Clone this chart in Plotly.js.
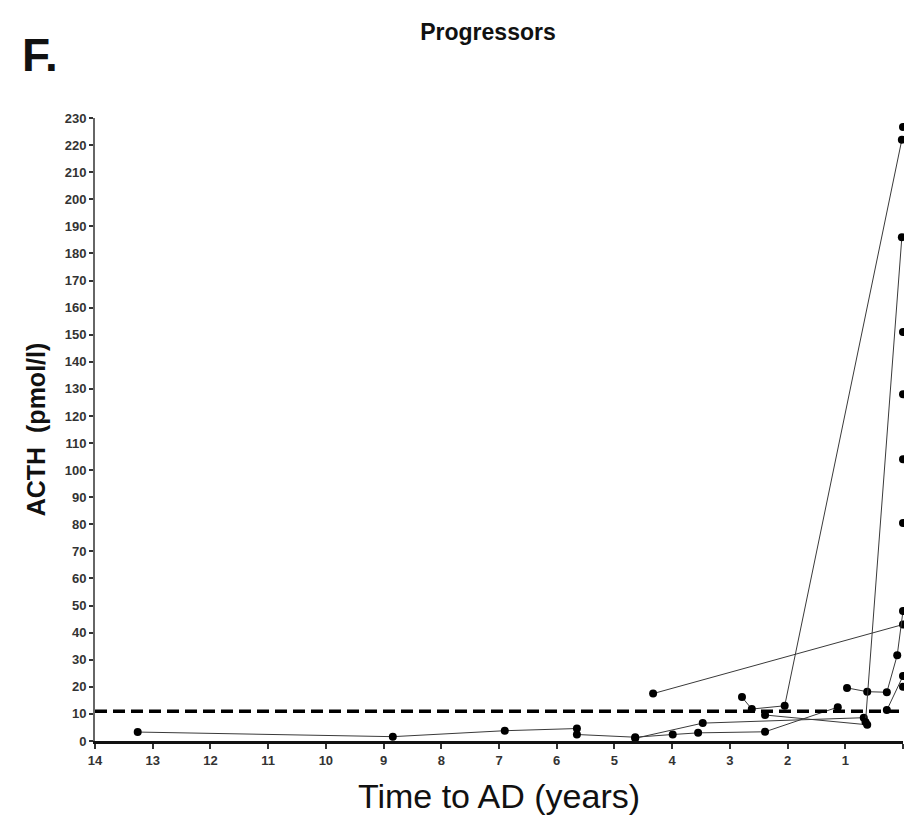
<!DOCTYPE html>
<html>
<head>
<meta charset="utf-8">
<script src="https://cdn.plot.ly/plotly-3.0.1.min.js"></script>
<style>html,body{margin:0;padding:0;background:#fff;}#chart{width:904px;height:828px;}</style>
</head>
<body>
<div id="chart"></div>
<script>
// Subject trajectories: time to AD (years) and ACTH (pmol/l)
const s1Time = [13.26, 8.84, 6.9, 5.65];
const s1Acth = [3.3, 1.6, 3.8, 4.6];
const s2Time = [5.65, 4.64, 3.99, 3.55, 2.39, 1.13];
const s2Acth = [2.4, 1.4, 2.4, 3.0, 3.4, 12.5];
const s3Time = [4.64, 3.47, 0.68];
const s3Acth = [1.0, 6.6, 8.6];
const s4Time = [4.33, 0.0];
const s4Acth = [17.5, 43];
const s5Time = [2.79, 2.62, 2.05, 0.02];
const s5Acth = [16.2, 11.8, 13.0, 222];
const s6Time = [2.39, 0.62];
const s6Acth = [9.6, 6.0];
const s7Time = [0.97, 0.62, 0.28, 0.1, 0.0];
const s7Acth = [19.6, 18.2, 18.0, 31.7, 48];
const s8Time = [0.65, 0.02];
const s8Acth = [7.0, 186];
const s9Time = [0.28, 0.0];
const s9Acth = [11.4, 24];
const singleTime = [0, 0, 0, 0, 0, 0];
const singleActh = [226.7, 151, 128, 104, 80.5, 20];
const thresholdActh = 11;
const xTickVals = [14, 13, 12, 11, 10, 9, 8, 7, 6, 5, 4, 3, 2, 1, 0];
const yTickVals = [0,10,20,30,40,50,60,70,80,90,100,110,120,130,140,150,160,170,180,190,200,210,220,230];

const subjects = [
  [s1Time, s1Acth], [s2Time, s2Acth], [s3Time, s3Acth], [s4Time, s4Acth],
  [s5Time, s5Acth], [s6Time, s6Acth], [s7Time, s7Acth], [s8Time, s8Acth], [s9Time, s9Acth]
];

const traces = subjects.map(function (s) {
  return {
    x: s[0], y: s[1], type: 'scatter', mode: 'lines+markers',
    line: {color: '#3a3a3a', width: 1},
    marker: {color: '#000', size: 8},
    cliponaxis: false, showlegend: false, hoverinfo: 'x+y'
  };
});
traces.push({
  x: singleTime, y: singleActh, type: 'scatter', mode: 'markers',
  marker: {color: '#000', size: 8}, cliponaxis: false, showlegend: false
});

const FONT = 'Liberation Sans, Arial, sans-serif';
const tickFont = {family: FONT, size: 13, color: '#333', weight: 'bold'};

const plotW = 904 - 95 - 1, plotH = 828 - 118 - 87;

const layout = {
  width: 904, height: 828,
  margin: {l: 95, r: 1, t: 118, b: 87},
  paper_bgcolor: '#fff', plot_bgcolor: '#fff',
  title: {
    text: '<b>Progressors</b>',
    font: {family: FONT, size: 23, color: '#111'},
    x: 488 / 904, xref: 'container', xanchor: 'center',
    y: 1 - 32 / 828, yref: 'container', yanchor: 'middle'
  },
  xaxis: {
    range: [14, 0], tickvals: xTickVals, ticktext: xTickVals.map(String),
    showgrid: false, zeroline: false,
    showline: true, linecolor: '#111', linewidth: 3,
    ticks: 'outside', ticklen: 5, tickwidth: 2, tickcolor: '#333',
    tickfont: tickFont,
    title: {text: 'Time to AD (years)', font: {family: FONT, size: 34, color: '#111'}, standoff: 18},
    automargin: false
  },
  yaxis: {
    range: [0, 230], tickvals: yTickVals, ticktext: yTickVals.map(String),
    showgrid: false, zeroline: false,
    showline: true, linecolor: '#666', linewidth: 2,
    ticks: 'outside', ticklen: 4, tickwidth: 2, tickcolor: '#333',
    tickfont: tickFont,
    title: {text: '<b>ACTH  (pmol/l)</b>', font: {family: FONT, size: 25, color: '#111'}, standoff: 12},
    automargin: false
  },
  shapes: [{
    type: 'line', xref: 'paper', x0: 0, x1: 1, yref: 'y', y0: thresholdActh, y1: thresholdActh,
    line: {color: '#000', width: 3.5, dash: '12px,6px'}
  }],
  annotations: [{
    text: 'F.', xref: 'paper', yref: 'paper',
    x: (20 - 95) / plotW, xanchor: 'left',
    y: (741 - 55) / plotH, yanchor: 'middle',
    showarrow: false,
    font: {family: FONT, size: 46, color: '#111', weight: 'bold'}
  }]
};

Plotly.newPlot('chart', traces, layout, {displayModeBar: false, staticPlot: true});
</script>
</body>
</html>
